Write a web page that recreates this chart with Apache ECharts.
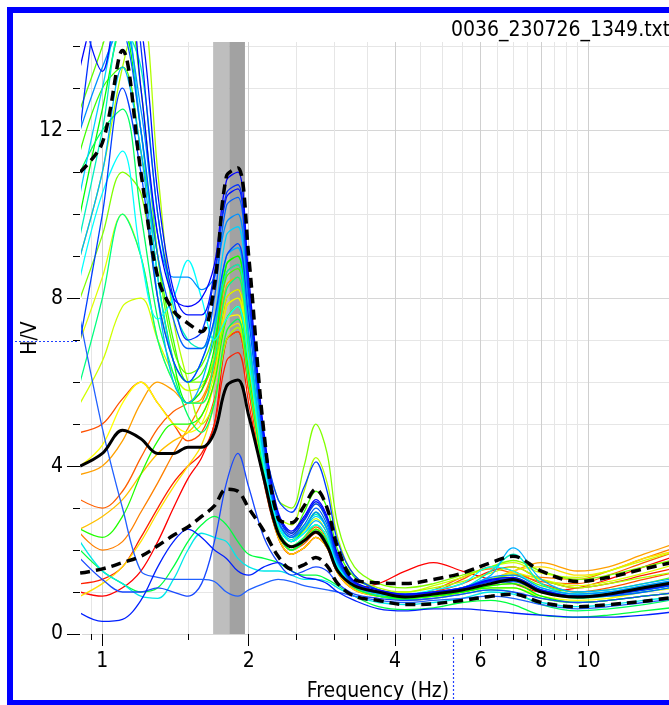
<!DOCTYPE html>
<html>
<head>
<meta charset="utf-8">
<script src="https://cdn.jsdelivr.net/npm/echarts@6/dist/echarts.min.js"></script>
<style>
  html, body { margin: 0; padding: 0; overflow: hidden; background: #fff; }
  #chart { width: 700px; height: 705px; }
</style>
</head>
<body>
<div id="chart"></div>
<script>
/* H/V spectral ratio — one thin line per time window, black mean and ±std (dashed),
   grey band = f0 and its standard deviation */

const FILE_NAME = '0036_230726_1349.txt';

// frequency samples (Hz) shared by every curve
const FREQ = [0.9, 1.0, 1.1, 1.2, 1.3, 1.4, 1.5, 1.6, 1.7, 1.8, 1.9, 2.0, 2.15, 2.3, 2.45, 2.6, 2.75, 2.9, 3.05, 3.3,
              3.7, 4.2, 4.8, 5.5, 6.3, 7.0, 8.0, 9.5, 11, 13, 15.5];

// individual windows
const W_R2 = [1.0, 0.9, 1.1, 1.5, 2.2, 3.0, 3.7, 4.2, 5.0, 7.0, 7.2, 5.8, 3.7, 2.3, 1.9, 2.05, 2.3, 2.05, 1.45, 1.1, 1.2, 1.5, 1.7, 1.5, 1.3, 1.2, 1.0, 1.1, 1.3, 1.6, 1.9];
const W_R1 = [1.2, 1.3, 1.6, 2.3, 3.0, 3.6, 4.0, 4.3, 5.0, 6.5, 6.7, 5.5, 3.6, 2.3, 1.9, 2.05, 2.3, 2.05, 1.45, 1.05, 0.9, 0.85, 1.0, 1.2, 1.5, 1.6, 1.3, 1.1, 1.2, 1.4, 1.6];
const W_O3 = [4.8, 5.0, 5.6, 6.0, 5.5, 5.0, 4.6, 4.8, 5.6, 7.0, 7.2, 5.8, 3.7, 2.4, 2.0, 2.15, 2.4, 2.15, 1.5, 1.1, 0.95, 0.9, 1.0, 1.3, 1.6, 1.5, 1.2, 1.0, 1.1, 1.3, 1.5];
const W_O4 = [3.2, 3.0, 3.4, 4.2, 4.9, 5.3, 5.5, 5.8, 6.6, 8.6, 8.8, 6.8, 4.0, 2.45, 2.0, 2.25, 2.55, 2.25, 1.55, 1.1, 0.95, 0.9, 1.05, 1.35, 1.55, 1.45, 1.25, 1.2, 1.4, 1.7, 2.0];
const W_O2 = [2.4, 2.0, 2.2, 2.9, 3.6, 4.3, 4.9, 5.5, 6.3, 8.0, 8.2, 6.4, 3.9, 2.4, 2.0, 2.3, 2.6, 2.3, 1.6, 1.1, 0.95, 0.9, 0.95, 1.1, 1.3, 1.4, 1.35, 1.3, 1.5, 1.8, 2.1];
const W_O1 = [3.8, 4.0, 4.6, 5.5, 6.0, 5.8, 5.5, 5.6, 6.5, 8.3, 8.5, 6.6, 4.0, 2.5, 2.0, 2.3, 2.6, 2.3, 1.6, 1.15, 0.95, 0.9, 0.95, 1.05, 1.3, 1.5, 1.7, 1.5, 1.6, 1.9, 2.2];
const W_Y4 = [2.5, 2.8, 3.2, 3.8, 4.3, 4.6, 4.8, 5.2, 6.0, 7.8, 8.0, 6.3, 3.9, 2.4, 2.0, 2.2, 2.5, 2.2, 1.55, 1.1, 0.9, 0.85, 0.9, 1.0, 1.15, 1.2, 1.0, 0.9, 0.95, 1.1, 1.25];
const W_Y3 = [0.9, 1.2, 1.6, 2.2, 2.9, 3.5, 4.0, 4.5, 5.5, 7.2, 7.4, 6.0, 3.7, 2.3, 1.9, 2.05, 2.3, 2.05, 1.45, 1.05, 0.9, 0.8, 0.85, 1.0, 1.2, 1.5, 1.6, 1.4, 1.5, 1.8, 2.0];
const W_Y2 = [4.0, 4.5, 5.5, 6.0, 5.5, 5.0, 4.8, 5.0, 6.0, 7.5, 7.6, 6.0, 3.8, 2.4, 2.0, 2.2, 2.5, 2.2, 1.55, 1.1, 0.9, 0.85, 0.9, 1.0, 1.1, 1.1, 0.9, 0.8, 0.85, 1.0, 1.1];
const W_Y5 = [5.5, 6.5, 7.8, 8.0, 7.0, 6.2, 5.8, 5.9, 6.6, 8.0, 8.2, 6.6, 4.1, 2.6, 2.2, 2.45, 2.75, 2.4, 1.65, 1.2, 1.0, 1.0, 1.15, 1.35, 1.6, 1.7, 1.45, 1.35, 1.5, 1.75, 2.0];
const W_Y1 = [7.0, 8.5, 10.0, 9.0, 7.0, 6.0, 5.5, 5.5, 6.2, 7.8, 8.0, 6.5, 4.0, 2.5, 2.1, 2.3, 2.6, 2.3, 1.6, 1.15, 0.95, 0.9, 0.95, 1.1, 1.3, 1.45, 1.3, 1.15, 1.25, 1.45, 1.7];
const W_G7 = [2.5, 2.3, 2.8, 3.8, 4.6, 5.0, 5.0, 5.2, 6.0, 7.5, 7.8, 6.2, 3.8, 2.4, 2.0, 2.2, 2.5, 2.2, 1.55, 1.1, 0.9, 0.85, 0.9, 1.0, 1.1, 1.1, 0.85, 0.75, 0.8, 0.9, 1.0];
const W_G6 = [2.0, 1.5, 1.2, 1.0, 1.1, 1.6, 2.2, 2.6, 2.8, 2.6, 2.2, 1.9, 1.8, 1.7, 1.5, 1.4, 1.4, 1.3, 1.15, 0.9, 0.65, 0.58, 0.62, 0.75, 0.8, 0.7, 0.45, 0.4, 0.45, 0.55, 0.65];
const W_G5 = [9.0, 11.0, 13.5, 15.0, 11.0, 7.5, 6.0, 5.0, 5.5, 7.0, 7.3, 6.0, 4.0, 2.8, 2.6, 3.4, 4.2, 3.6, 2.3, 1.4, 1.1, 1.0, 1.1, 1.25, 1.45, 1.6, 1.3, 1.1, 1.2, 1.35, 1.5];
const W_G4 = [8.0, 9.5, 11.0, 10.5, 8.0, 6.5, 6.0, 6.0, 6.5, 7.5, 7.8, 6.5, 4.5, 3.2, 3.0, 4.0, 5.0, 4.3, 2.6, 1.6, 1.2, 1.1, 1.2, 1.4, 1.6, 1.75, 1.5, 1.3, 1.4, 1.6, 1.8];
const W_G8 = [12.5, 14.0, 15.5, 13.0, 9.0, 6.8, 6.2, 6.4, 7.2, 8.8, 9.0, 7.1, 4.2, 2.7, 2.3, 2.7, 3.1, 2.7, 1.8, 1.25, 1.0, 0.92, 0.98, 1.1, 1.3, 1.4, 1.15, 1.0, 1.05, 1.2, 1.4];
const W_G3 = [11.5, 13.0, 13.5, 11.5, 9.0, 7.0, 6.0, 6.2, 7.0, 8.5, 8.7, 7.0, 4.3, 2.8, 2.4, 2.9, 3.4, 3.0, 2.0, 1.35, 1.05, 0.95, 1.0, 1.1, 1.3, 1.35, 1.05, 0.9, 0.95, 1.05, 1.2];
const W_G2 = [10.0, 12.5, 14.5, 12.0, 8.5, 6.5, 5.5, 5.8, 6.8, 8.8, 9.0, 7.0, 4.1, 2.6, 2.2, 2.5, 2.9, 2.5, 1.7, 1.2, 0.95, 0.85, 0.9, 1.0, 1.15, 1.2, 0.9, 0.75, 0.8, 0.9, 1.0];
const W_G9 = [11.0, 12.0, 12.5, 10.0, 7.5, 6.2, 5.2, 4.8, 5.5, 7.2, 7.5, 6.0, 3.8, 2.4, 2.0, 2.2, 2.45, 2.2, 1.55, 1.1, 0.9, 0.82, 0.85, 0.95, 1.05, 1.0, 0.7, 0.55, 0.6, 0.7, 0.85];
const W_G1 = [6.0, 8.0, 10.0, 9.0, 7.0, 6.0, 5.5, 5.5, 6.5, 8.2, 8.5, 6.8, 4.0, 2.5, 2.1, 2.3, 2.6, 2.3, 1.6, 1.15, 0.95, 0.9, 0.95, 1.05, 1.2, 1.25, 1.0, 0.85, 0.9, 1.0, 1.15];
const W_C5 = [9.5, 12.0, 14.5, 13.5, 10.0, 7.8, 7.0, 6.8, 7.4, 8.6, 8.8, 6.9, 4.1, 2.6, 2.25, 2.55, 2.85, 2.5, 1.7, 1.2, 0.98, 0.9, 0.95, 1.08, 1.5, 1.9, 1.2, 0.95, 1.0, 1.12, 1.3];
const W_C4 = [9.0, 11.0, 13.5, 11.5, 8.0, 6.0, 5.5, 6.0, 7.2, 9.0, 9.2, 7.2, 4.2, 2.6, 2.2, 2.4, 2.7, 2.4, 1.65, 1.15, 0.95, 0.9, 0.95, 1.1, 1.4, 2.05, 1.3, 1.0, 1.05, 1.2, 1.35];
const W_C3 = [2.2, 1.5, 1.2, 0.9, 0.85, 1.3, 2.0, 2.4, 2.3, 2.2, 1.8, 1.6, 1.5, 1.5, 1.4, 1.3, 1.3, 1.25, 1.1, 0.9, 0.75, 0.7, 0.75, 0.85, 1.0, 0.95, 0.75, 0.65, 0.7, 0.8, 0.9];
const W_C2 = [10.5, 13.0, 15.0, 12.0, 8.5, 6.5, 6.0, 6.5, 7.5, 9.5, 9.7, 7.6, 4.4, 2.7, 2.3, 2.5, 2.8, 2.5, 1.7, 1.15, 0.95, 0.9, 0.95, 1.1, 1.3, 1.3, 1.0, 0.9, 0.95, 1.05, 1.2];
const W_C1 = [8.5, 10.5, 11.5, 9.0, 7.5, 8.0, 8.9, 8.0, 7.0, 7.5, 7.8, 6.5, 4.0, 2.6, 2.2, 2.4, 2.6, 2.3, 1.6, 1.2, 1.0, 0.95, 1.05, 1.2, 1.6, 1.5, 1.1, 0.95, 1.0, 1.15, 1.3];
const W_B8 = [1.8, 1.3, 1.0, 1.0, 1.1, 1.0, 0.9, 1.2, 2.2, 3.6, 4.3, 3.5, 2.3, 1.7, 1.4, 1.5, 1.6, 1.5, 1.2, 0.95, 0.85, 0.8, 0.85, 0.95, 1.05, 1.0, 0.85, 0.75, 0.8, 0.9, 1.0];
const W_B7 = [7.5, 4.9, 3.0, 1.5, 1.35, 1.3, 1.3, 1.3, 1.25, 1.0, 0.9, 1.05, 1.2, 1.3, 1.25, 1.15, 1.1, 1.05, 1.0, 0.9, 0.8, 0.75, 0.8, 0.85, 0.9, 0.85, 0.7, 0.6, 0.65, 0.75, 0.85];
const W_B6 = [7.0, 10.0, 13.0, 11.0, 8.0, 6.5, 6.0, 6.5, 7.5, 9.0, 9.3, 7.5, 4.6, 3.2, 2.9, 3.5, 4.1, 3.4, 2.2, 1.4, 1.05, 0.95, 1.0, 1.1, 1.25, 1.3, 1.05, 0.9, 0.95, 1.05, 1.2];
const W_B5 = [12.0, 13.5, 14.5, 12.5, 9.5, 8.5, 8.5, 8.2, 8.5, 9.8, 10.0, 7.8, 4.4, 2.7, 2.3, 2.5, 2.9, 2.5, 1.7, 1.2, 1.0, 0.92, 0.97, 1.1, 1.35, 1.4, 1.1, 0.95, 1.0, 1.15, 1.3];
const W_B4 = [0.5, 0.3, 0.35, 0.8, 1.6, 2.2, 2.5, 2.3, 2.0, 1.8, 1.5, 1.4, 1.6, 1.7, 1.5, 1.35, 1.3, 1.2, 1.0, 0.8, 0.6, 0.55, 0.6, 0.6, 0.55, 0.5, 0.45, 0.4, 0.4, 0.45, 0.55];
const W_B3 = [14.5, 15.0, 14.5, 12.0, 9.0, 7.5, 6.8, 6.8, 8.0, 10.2, 10.4, 8.0, 4.5, 2.7, 2.3, 2.6, 3.0, 2.6, 1.75, 1.15, 0.98, 0.9, 0.95, 1.05, 1.2, 1.25, 1.0, 0.87, 0.9, 1.0, 1.15];
const W_B9 = [15.0, 13.4, 15.5, 14.5, 10.5, 8.2, 7.6, 7.6, 8.6, 10.4, 10.6, 8.2, 4.7, 2.85, 2.4, 2.75, 3.15, 2.75, 1.85, 1.22, 1.02, 0.93, 0.98, 1.08, 1.28, 1.32, 1.03, 0.89, 0.93, 1.07, 1.22];
const W_B2 = [12.0, 16.0, 18.0, 14.0, 10.0, 8.0, 7.0, 7.2, 8.5, 10.5, 10.7, 8.2, 4.6, 2.8, 2.35, 2.7, 3.1, 2.7, 1.8, 1.2, 1.0, 0.92, 0.98, 1.08, 1.25, 1.3, 1.02, 0.88, 0.92, 1.05, 1.2];
const W_B1 = [13.5, 15.5, 16.5, 13.0, 9.5, 8.0, 7.8, 8.0, 8.8, 10.8, 11.0, 8.5, 4.8, 2.9, 2.45, 2.8, 3.2, 2.8, 1.9, 1.25, 1.05, 0.95, 1.0, 1.1, 1.3, 1.35, 1.05, 0.9, 0.95, 1.1, 1.25];

const WINDOWS = [W_R2, W_R1, W_O3, W_O4, W_O2, W_O1, W_Y4, W_Y3, W_Y2, W_Y5, W_Y1, W_G7, W_G6, W_G5, W_G4, W_G8, W_G3,
                 W_G2, W_G9, W_G1, W_C5, W_C4, W_C3, W_C2, W_C1, W_B8, W_B7, W_B6, W_B5, W_B4, W_B3, W_B9, W_B2, W_B1];
const WINDOW_COLORS = ['#ff0000', '#ff2000', '#ff5000', '#ff6000', '#ff8000', '#ffa000', '#ffc000', '#ffe000', '#ffff00', '#d0ff00',
                       '#e0ff00', '#20ff00', '#00ff40', '#b0ff00', '#80ff00', '#60ff00', '#40ff00', '#00ff00', '#00ff60', '#00ff80',
                       '#00f0c0', '#00b0ff', '#00e8e8', '#00d0ff', '#00ffff', '#1848ff', '#2060ff', '#0040ff', '#0090ff', '#0020ff',
                       '#0060ff', '#0010ff', '#0030ff', '#0000ff'];

// average curve and its ± standard deviation
const HV_MEAN  = [4.0, 4.3, 4.85, 4.65, 4.3, 4.3, 4.45, 4.45, 4.8, 5.9, 6.05, 5.2, 3.7, 2.4, 2.08, 2.22, 2.43, 2.1, 1.5, 1.15,
                  1.0, 0.88, 0.95, 1.05, 1.2, 1.3, 1.0, 0.88, 0.95, 1.1, 1.25];
const HV_UPPER = [11.0, 11.7, 13.9, 11.0, 8.5, 7.7, 7.4, 7.2, 8.3, 10.9, 11.1, 9.0, 4.8, 2.75, 2.65, 3.05, 3.45, 3.0, 2.05, 1.3,
                  1.22, 1.2, 1.3, 1.45, 1.7, 1.85, 1.5, 1.25, 1.35, 1.55, 1.75];
const HV_LOWER = [1.45, 1.55, 1.7, 1.85, 2.1, 2.35, 2.55, 2.8, 3.05, 3.45, 3.4, 3.0, 2.45, 1.85, 1.55, 1.65, 1.82, 1.62, 1.2, 0.9,
                  0.8, 0.7, 0.72, 0.8, 0.9, 0.95, 0.75, 0.65, 0.7, 0.78, 0.9];

// f0 / std, f0, f0 * std
const F0_BAND = [1.69, 1.824, 1.965];

const X_RANGE = [0.908, 15];
const Y_RANGE = [0, 14.1];
const X_MAJOR = [1, 2, 4, 6, 8, 10];
const X_MINOR = [0.95, 1.5, 2.5, 3, 3.5, 4.5, 5, 5.5, 6.5, 7, 7.5, 8.5, 9, 9.5];
const Y_MAJOR = [0, 4, 8, 12];
const Y_MINOR = [1, 2, 3, 5, 6, 7, 9, 10, 11, 13, 14];

const FONT = "'DejaVu Sans Condensed', 'DejaVu Sans', sans-serif";
const pts = (vals) => FREQ.map((f, i) => [f, vals[i]]);

const xBase = { type: 'log', logBase: 10, min: X_RANGE[0], max: X_RANGE[1], position: 'bottom', offset: 2, axisLine: { show: false } };
const yBase = { type: 'value', min: Y_RANGE[0], max: Y_RANGE[1], position: 'left', offset: 2, axisLine: { show: false } };
const labelStyle = { fontFamily: FONT, fontSize: 21, color: '#000' };

const series = [{
  type: 'line', data: [], z: 1, silent: true,
  markArea: {
    silent: true,
    data: [
      [{ xAxis: F0_BAND[0], itemStyle: { color: '#bebebe', opacity: 1 } }, { xAxis: F0_BAND[1] }],
      [{ xAxis: F0_BAND[1], itemStyle: { color: '#a2a2a2', opacity: 1 } }, { xAxis: F0_BAND[2] }]
    ]
  }
}];

WINDOWS.forEach((w, i) => series.push({
  type: 'line', data: pts(w), smooth: 0.35, showSymbol: false, silent: true, z: 2,
  lineStyle: { width: 1.3, color: WINDOW_COLORS[i] }
}));

series.push(
  { type: 'line', data: pts(HV_UPPER), smooth: 0.35, showSymbol: false, z: 3, lineStyle: { width: 3.5, color: '#000', type: [10, 6] } },
  { type: 'line', data: pts(HV_LOWER), smooth: 0.35, showSymbol: false, z: 3, lineStyle: { width: 3.5, color: '#000', type: [10, 6] } },
  { type: 'line', data: pts(HV_MEAN), smooth: 0.35, showSymbol: false, z: 3, lineStyle: { width: 3, color: '#000' } }
);

const chart = echarts.init(document.getElementById('chart'), null, { renderer: 'canvas' });
chart.setOption({
  animation: false,
  backgroundColor: '#fff',
  title: {
    text: FILE_NAME, left: 446, top: 15,
    textStyle: { fontFamily: FONT, fontSize: 21, fontWeight: 'normal', color: '#000' }
  },
  grid: { left: 82, top: 42, width: 592, height: 592, outerBoundsMode: 'none' },
  xAxis: [
    { ...xBase,
      axisTick: { customValues: X_MINOR, length: 6, lineStyle: { color: '#000' } },
      axisLabel: { show: false },
      splitLine: { show: true, lineStyle: { color: '#e6e6e6' } } },
    { ...xBase,
      axisTick: { customValues: X_MAJOR, length: 12, lineStyle: { color: '#000' } },
      axisLabel: { customValues: X_MAJOR, margin: 15, ...labelStyle },
      splitLine: { show: true, lineStyle: { color: '#cfcfcf' } },
      name: 'Frequency (Hz)', nameLocation: 'middle', nameGap: 45, nameMoveOverlap: false, nameTextStyle: labelStyle }
  ],
  yAxis: [
    { ...yBase,
      axisTick: { customValues: Y_MINOR, length: 7, lineStyle: { color: '#000' } },
      axisLabel: { show: false },
      splitLine: { show: true, lineStyle: { color: '#e6e6e6' } } },
    { ...yBase,
      axisTick: { customValues: Y_MAJOR, length: 13, lineStyle: { color: '#000' } },
      axisLabel: { customValues: Y_MAJOR, margin: 17, ...labelStyle },
      splitLine: { show: true, lineStyle: { color: '#d6d6d6' } },
      name: 'H/V', nameLocation: 'middle', nameGap: 39, nameRotate: 90, nameMoveOverlap: false, nameTextStyle: labelStyle }
  ],
  graphic: [
    { type: 'line', silent: true, z: 50, shape: { x1: 15, y1: 341.5, x2: 79, y2: 341.5 },
      style: { stroke: '#2040ff', lineWidth: 1.2, lineDash: [2, 2] } },
    { type: 'line', silent: true, z: 50, shape: { x1: 453.5, y1: 637, x2: 453.5, y2: 701 },
      style: { stroke: '#2040ff', lineWidth: 1.2, lineDash: [2, 2] } },
    { type: 'rect', silent: true, z: 100, shape: { x: 10, y: 10, width: 684, height: 693 },
      style: { fill: 'none', stroke: '#0000ff', lineWidth: 6 } }
  ],
  series
});
</script>
</body>
</html>
